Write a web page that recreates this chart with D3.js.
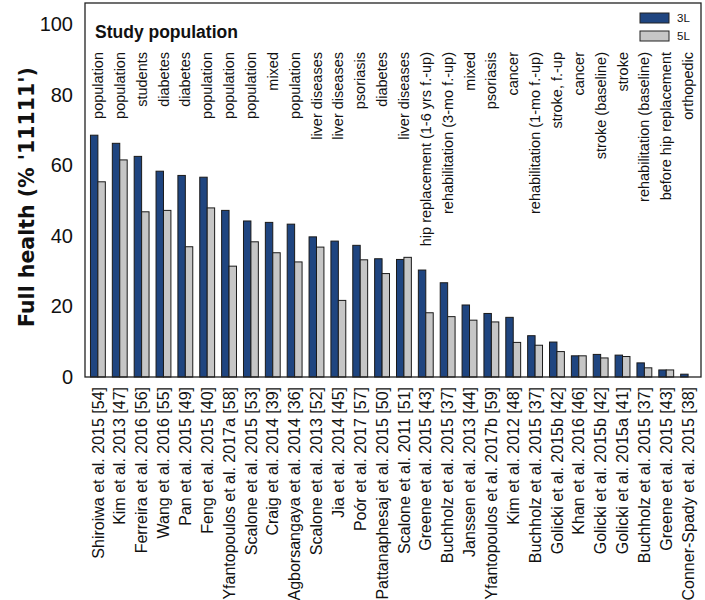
<!DOCTYPE html>
<html><head><meta charset="utf-8">
<script src="https://cdn.jsdelivr.net/npm/d3@7"></script>
<style>body{margin:0;background:#fff}svg{display:block;font-family:Arial,"Liberation Sans",sans-serif}</style>
</head><body><svg id="c" width="705" height="600"></svg>
<script>
const studies = ["Shiroiwa et al. 2015 [54]","Kim et al. 2013 [47]","Ferreira et al. 2016 [56]","Wang et al. 2016 [55]","Pan et al. 2015 [49]","Feng et al. 2015 [40]","Yfantopoulos et al. 2017a [58]","Scalone et al. 2015 [53]","Craig et al. 2014 [39]","Agborsangaya et al. 2014 [36]","Scalone et al. 2013 [52]","Jia et al. 2014 [45]","Poór et al. 2017 [57]","Pattanaphesaj et al. 2015 [50]","Scalone et al. 2011 [51]","Greene et al. 2015 [43]","Buchholz et al. 2015 [37]","Janssen et al. 2013 [44]","Yfantopoulos et al. 2017b [59]","Kim et al. 2012 [48]","Buchholz et al. 2015 [37]","Golicki et al. 2015b [42]","Khan et al. 2016 [46]","Golicki et al. 2015b [42]","Golicki et al. 2015a [41]","Buchholz et al. 2015 [37]","Greene et al. 2015 [43]","Conner-Spady et al. 2015 [38]"];
const populations = ["population","population","students","diabetes","diabetes","population","population","population","mixed","population","liver diseases","liver diseases","psoriasis","diabetes","liver diseases","hip replacement (1-6 yrs f.-up)","rehabilitation (3-mo f.-up)","mixed","psoriasis","cancer","rehabilitation (1-mo f.-up)","stroke, f.-up","cancer","stroke (baseline)","stroke","rehabilitation (baseline)","before hip replacement","orthopedic"];
const values3L = [68.5,66.2,62.5,58.3,57.1,56.6,47.2,44.2,43.8,43.3,39.7,38.5,37.3,33.5,33.3,30.3,26.7,20.4,18.0,16.9,11.7,9.9,6.0,6.4,6.2,4.0,2.0,0.8];
const values5L = [55.3,61.5,46.8,47.2,36.9,47.9,31.4,38.3,35.2,32.6,36.8,21.7,33.2,29.3,33.9,18.2,17.1,16.1,15.6,9.8,9.0,7.2,6.0,5.4,5.8,2.6,2.0,0];
const seriesNames = ["3L","5L"];
const yTicks = [0,20,40,60,80,100];

const svg = d3.select("#c");
const L=85, R=701, T=3, B=377;
const y = d3.scaleLinear().domain([0,100]).range([B, 24]);
const x = d3.scaleBand().domain(d3.range(studies.length)).range([L,R]).paddingInner(0.32).paddingOuter(0.25);
const xs = d3.scaleBand().domain(seriesNames).range([0, x.bandwidth()]);
const colors = {"3L":"#1f4580","5L":"#c6c6c6"};

// bars
const g = svg.append("g");
studies.forEach((s,i)=>{
  [["3L",values3L[i]],["5L",values5L[i]]].forEach(([k,v])=>{
    if(v<=0) return;
    g.append("rect").attr("x", x(i)+xs(k)).attr("y", y(v)).attr("width", xs.bandwidth()).attr("height", y(0)-y(v))
      .attr("fill", colors[k]).attr("stroke","#1a1a1a").attr("stroke-width",1);
  });
});

// frame
svg.append("rect").attr("x",L).attr("y",T).attr("width",R-L).attr("height",B-T).attr("fill","none").attr("stroke","#222").attr("stroke-width",1.3);

// y axis
const ya = svg.append("g").attr("transform",`translate(${L},0)`).call(d3.axisLeft(y).tickValues(yTicks).tickSize(0).tickPadding(12));
ya.select(".domain").remove();
ya.selectAll("text").attr("font-size",20).attr("font-family","Arial, 'Liberation Sans', sans-serif").attr("fill","#111");

svg.append("text").attr("transform","translate(27,197) rotate(-90)").attr("text-anchor","middle").attr("dy","0.35em")
  .attr("font-family","'DejaVu Sans', Verdana, sans-serif")
  .attr("font-size",20.5).attr("font-weight","bold").attr("fill","#111").text("Full health (% '11111')");

// x labels
const xa = svg.append("g").attr("transform",`translate(0,${B})`).call(d3.axisBottom(x).tickSize(0).tickFormat(i=>studies[i]));
xa.select(".domain").remove();
xa.selectAll("text").attr("font-size",16).attr("font-family","Arial, 'Liberation Sans', sans-serif").attr("fill","#111")
  .attr("text-anchor","end").attr("transform","rotate(-90)").attr("x",-10).attr("y",0).attr("dy","0.35em");

// population labels
svg.append("text").attr("x",95).attr("y",38).attr("font-size",17.5).attr("font-weight","bold").attr("fill","#111").text("Study population");
svg.append("g").selectAll("text").data(populations).join("text")
  .attr("transform",(d,i)=>`translate(${x(i)+x.bandwidth()/2},52) rotate(-90)`)
  .attr("text-anchor","end").attr("dy","0.35em").attr("font-size",14.5).attr("fill","#111").text(d=>d);

// legend
const lg = svg.append("g");
seriesNames.forEach((k,i)=>{
  lg.append("rect").attr("x",640).attr("y",13+i*18).attr("width",29).attr("height",10).attr("fill",colors[k]).attr("stroke","#222").attr("stroke-width",1);
  lg.append("text").attr("x",677).attr("y",18+i*18).attr("dy","0.35em").attr("font-size",11.5).attr("fill","#111").text(k);
});
</script></body></html>
